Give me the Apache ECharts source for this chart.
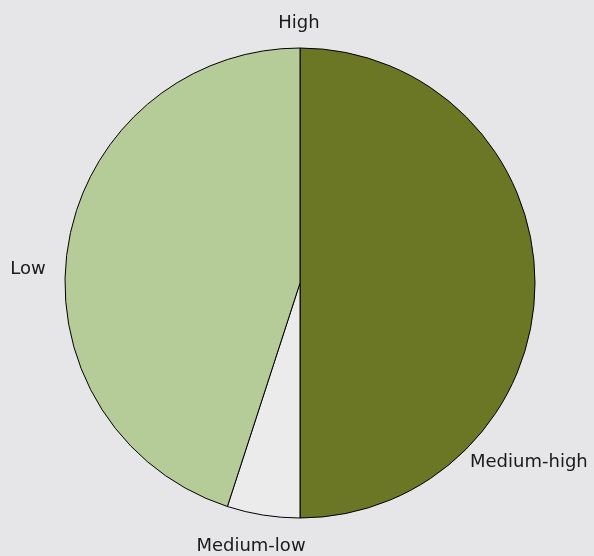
<!DOCTYPE html>
<html>
<head>
<meta charset="utf-8">
<script src="https://cdn.jsdelivr.net/npm/echarts@6/dist/echarts.min.js"></script>
<style>
  html, body { margin: 0; padding: 0; background: #e6e6e8; }
  #chart { width: 594px; height: 556px; }
</style>
</head>
<body>
<div id="chart"></div>
<script>
// Share of each level (percent)
const categories = ['High', 'Medium-high', 'Medium-low', 'Low'];
const shares = [0, 50, 5, 45];
const sliceColors = ['#6b7725', '#6b7725', '#ebebec', '#b5cb98'];

// Label anchor points for each category
const labelSpots = {
  'High':        { x: 299, y: 23,  align: 'center' },
  'Medium-high': { x: 470, y: 462, align: 'left' },
  'Medium-low':  { x: 251, y: 546, align: 'center' },
  'Low':         { x: 28,  y: 269, align: 'center' }
};

const chart = echarts.init(document.getElementById('chart'), null, { renderer: 'canvas' });

chart.setOption({
  backgroundColor: '#e6e6e8',
  animation: false,
  series: [{
    type: 'pie',
    center: [300, 283],
    radius: [0, 235],
    startAngle: 90,
    clockwise: true,
    avoidLabelOverlap: false,
    minShowLabelAngle: -1,
    data: categories.map((name, i) => ({
      name: name,
      value: shares[i],
      itemStyle: { color: sliceColors[i] }
    })),
    itemStyle: { borderColor: '#000', borderWidth: 1 },
    label: {
      show: true,
      position: 'outside',
      formatter: '{b}',
      fontFamily: 'DejaVu Sans',
      fontSize: 18,
      color: '#1a1a1a'
    },
    labelLine: { show: false },
    emphasis: { disabled: true },
    labelLayout: function (params) {
      const spot = labelSpots[categories[params.dataIndex]];
      return { x: spot.x, y: spot.y, align: spot.align, verticalAlign: 'middle', hideOverlap: false };
    }
  }]
});
</script>
</body>
</html>
